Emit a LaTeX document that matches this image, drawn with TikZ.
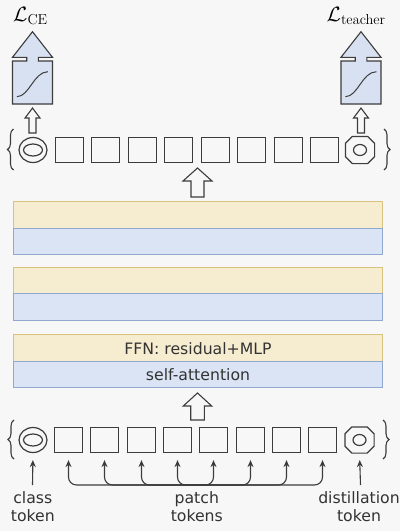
\documentclass[tikz,border=0pt]{standalone}
\usepackage[no-math]{fontspec}
\setmainfont{DejaVu Sans}
\usetikzlibrary{shapes.geometric,decorations.pathreplacing,arrows.meta}
\definecolor{bg}{HTML}{F7F7F7}
\definecolor{tokc}{HTML}{3C3C3C}
\definecolor{txtc}{HTML}{333333}
\definecolor{yfill}{HTML}{F6ECCF}
\definecolor{ystroke}{HTML}{D8C27E}
\definecolor{bfill}{HTML}{DAE4F4}
\definecolor{bstroke}{HTML}{92A9CF}
\definecolor{lfill}{HTML}{D8E1F1}
\begin{document}
\begin{tikzpicture}[x=1pt,y=-1pt,
  tok/.style={draw=tokc, line width=1.2pt, minimum width=28pt, minimum height=25pt, inner sep=0pt},
  sq/.style={tok, rectangle},
  cls/.style={tok, ellipse},
  tokline/.style={draw=tokc, line width=1.2pt},
  band/.style={line width=1pt, minimum width=369.6pt, anchor=north west, inner sep=0pt,
    text=txtc, font=\fontsize{15.7}{18.5}\selectfont},
  yband/.style={band, draw=ystroke, fill=yfill},
  bband/.style={band, draw=bstroke, fill=bfill},
  barrow/.style={draw=tokc, line width=1.1pt, fill=bg, line join=miter},
  lossb/.style={draw=tokc, fill=lfill, line width=1.1pt, line join=miter},
  arr/.style={draw=tokc, line width=1.1pt, -{Stealth[length=7pt,width=6pt]}, shorten >=7pt},
  lbl/.style={text=txtc, align=center, font=\fontsize{15.7}{18.4}\selectfont, inner sep=0pt},
  brc/.style={draw=tokc, line width=1.1pt, decorate, decoration={brace, amplitude=6pt}},
  mlbl/.style={text=black, inner sep=0pt, font=\fontsize{22}{26}\selectfont}
]
\fill[bg] (0,0) rectangle (400,531);
\useasboundingbox (0,0) rectangle (400,531);

% loss shapes
\foreach \cx in {32.5,361} {
  \begin{scope}[shift={(\cx,0)}]
    \draw[lossb] (-20,57.3) -- (0,31.7) -- (20,57.3) -- (5.8,57.3) -- (5.8,61) -- (20,61)
      -- (20,104) -- (-20,104) -- (-20,61) -- (-5.8,61) -- (-5.8,57.3) -- cycle;
    \draw[draw=tokc, line width=1pt] (-15.6,96.7) .. controls (-3,96.5) and (1,72) .. (15.4,71.7);
    \draw[barrow] (-3.5,133) -- (-3.5,118) -- (-7.5,118) -- (0,108) -- (7.5,118) -- (3.5,118) -- (3.5,133) -- cycle;
  \end{scope}
}
\node[mlbl, anchor=base west] (lce) at (13,21.5) {$\mathcal{L}_{\mathrm{CE}}$};
\node[mlbl, anchor=base west] (lte) at (326.5,21.5) {$\mathcal{L}_{\mathrm{teacher}}$};

% top token row
\node[cls] (c1) at (33,150) {};
\draw[tokline] (c1.center) ellipse [x radius=9.5pt, y radius=6pt];
\foreach \i/\xx in {1/69.5,2/105.5,3/142.5,4/178.5,5/215.5,6/251.5,7/288.5,8/324.5} {
  \node[sq] (t\i) at (\xx,150) {};
}
\node[tok, draw=none, minimum height=26pt] (d1) at (360,150) {};
\draw[tokline] ([xshift=7pt]d1.north west) -- ([xshift=-7pt]d1.north east) -- ([yshift=-7pt]d1.north east)
  -- ([yshift=7pt]d1.south east) -- ([xshift=-7pt]d1.south east) -- ([xshift=7pt]d1.south west)
  -- ([yshift=7pt]d1.south west) -- ([yshift=-7pt]d1.north west) -- cycle;
\draw[tokline] (d1.center) ellipse [x radius=6.5pt, y radius=5.5pt];
\draw[brc] (13.5,170) -- (13.5,129);
\draw[brc] (384,129) -- (384,170);

% upper big arrow
\draw[barrow] (191,197) -- (191,181) -- (183,181) -- (197.5,168) -- (212,181) -- (204,181) -- (204,197) -- cycle;

% transformer bands
\node[yband, minimum height=26.7pt] (f1) at (12.7,201) {};
\node[bband, minimum height=26.6pt] (a1) at (12.7,227.7) {};
\node[yband, minimum height=26pt] (f2) at (12.7,267.3) {};
\node[bband, minimum height=26.7pt] (a2) at (12.7,293.3) {};
\node[yband, minimum height=26.7pt] (f3) at (12.7,334.3) {FFN: residual+MLP};
\node[bband, minimum height=26.3pt] (a3) at (12.7,361) {self-attention};

% lower big arrow
\draw[barrow] (190.7,420) -- (190.7,406) -- (183.3,406) -- (197.5,393) -- (211.7,406) -- (204.3,406) -- (204.3,420) -- cycle;

% bottom token row
\node[cls] (c0) at (33,440) {};
\draw[tokline] (c0.center) ellipse [x radius=9.5pt, y radius=6pt];
\foreach \i/\xx in {1/68.5,2/104.5,3/141.5,4/177.5,5/213.5,6/250.5,7/286.5,8/322.5} {
  \node[sq] (b\i) at (\xx,440) {};
}
\node[tok, draw=none, minimum height=25pt] (d0) at (359.5,440) {};
\draw[tokline] ([xshift=7pt]d0.north west) -- ([xshift=-7pt]d0.north east) -- ([yshift=-7pt]d0.north east)
  -- ([yshift=7pt]d0.south east) -- ([xshift=-7pt]d0.south east) -- ([xshift=7pt]d0.south west)
  -- ([yshift=7pt]d0.south west) -- ([yshift=-7pt]d0.north west) -- cycle;
\draw[tokline] (d0.center) ellipse [x radius=6.5pt, y radius=5.5pt];
\draw[brc] (14,459) -- (14,420);
\draw[brc] (383,420) -- (383,459);

% labels
\node[lbl] (lc) at (32.8,506.7) {class\\token};
\node[lbl] (lp) at (196.8,506.7) {patch\\tokens};
\node[lbl] (ld) at (359,506.7) {distillation\\token};
\coordinate (jc) at (32.5,485);
\coordinate (jp) at (196.8,485);
\coordinate (jd) at (360.5,485);
\draw[arr] (jc) -- (c0.south);
\draw[arr] (jd) -- (d0.south);
\foreach \i in {1,...,8} {
  \draw[arr, rounded corners=8pt] (jp) -| (b\i.south);
}
\end{tikzpicture}
\end{document}
